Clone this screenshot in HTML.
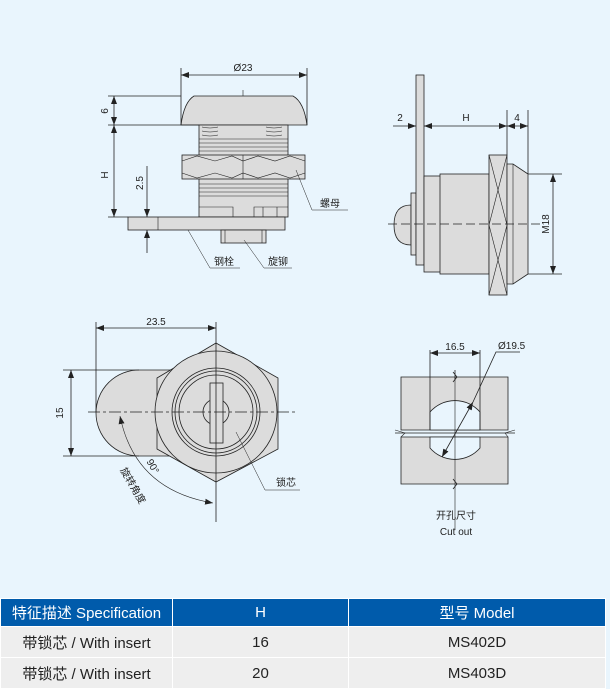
<!DOCTYPE html>
<html><head><meta charset="utf-8"><style>
html,body{margin:0;padding:0;width:610px;height:687px;background:#e9f5fd;overflow:hidden;font-family:"Liberation Sans","Noto Sans CJK SC",sans-serif}
svg{position:absolute;left:0;top:0}
table{position:absolute;left:0;top:598px;width:606px;border-collapse:collapse;font-size:15px}
td{text-align:center;height:29px;padding:0;border:1px solid #fff;color:#222}
tr.h td{background:#005bab;color:#fff;height:27px}
tr.r td{background:#eeeeee;height:30px}
</style></head><body>
<svg width="610" height="598" viewBox="0 0 610 598" font-family="Liberation Sans, Noto Sans CJK SC, sans-serif" font-size="10" fill="none" stroke="#222" stroke-width="0.8">
<defs><marker id="a" markerWidth="8" markerHeight="6" refX="8" refY="3" orient="auto-start-reverse" markerUnits="userSpaceOnUse"><path d="M0,0L8,3L0,6z" fill="#222" stroke="none"/></marker></defs>
<!-- View 1 -->
<g fill="#dcdcdc">
<path d="M181,125 Q184,102 194,96 L293,96 Q304,102 307,125 Z"/>
<rect x="199" y="125" width="89" height="92"/>
<rect x="182" y="155" width="123" height="24"/>
<rect x="128" y="217" width="157" height="13"/>
<rect x="221" y="230" width="45" height="13"/>
</g>
<g stroke-width="0.6">
<path d="M199,139H288M199,143H288M199,147H288M199,151H288M199,184H288M199,188H288M199,192H288M199,196H288"/>
<path d="M182,161L197,156L215,161L232,156L243,161L258,156L275,161L290,156L305,161M182,173L197,178L215,173L232,178L243,173L258,178L275,173L290,178L305,173M243,155V179"/>
<path d="M202,127q8,2 16,0M202,131q8,2 16,0M202,135q8,2 16,0M266,127q8,2 16,0M266,131q8,2 16,0M266,135q8,2 16,0"/>
<path d="M199,207H233V217M254,217V207H288M263,207V217M277,207V217M158,217V230M225,230V243M262,230V243M243,90V96"/>
</g>
<path d="M181,68V125M307,68V125M108,96H181M108,125H199M108,217H128"/>
<path d="M181,75H307" marker-start="url(#a)" marker-end="url(#a)"/>
<path d="M114,96V125" marker-start="url(#a)" marker-end="url(#a)"/>
<path d="M114,125V217" marker-start="url(#a)" marker-end="url(#a)"/>
<path d="M147,166V217" marker-end="url(#a)"/><path d="M147,253V230" marker-end="url(#a)"/>
<path d="M296,170L312,210H348M188,230L210,268H240M244,240L264,268H292" stroke-width="0.5"/>
<g fill="#222" stroke="none">
<text x="243" y="71" text-anchor="middle">Ø23</text>
<text transform="translate(108,111) rotate(-90)" text-anchor="middle">6</text>
<text transform="translate(108,175) rotate(-90)" text-anchor="middle">H</text>
<text transform="translate(143,183) rotate(-90)" text-anchor="middle">2.5</text>
<text x="320" y="207">螺母</text><text x="214" y="265">钢栓</text><text x="268" y="265">旋铆</text>
</g>
<!-- View 2 -->
<g fill="#dcdcdc">
<path d="M394,225 Q394,205 411,205 V245 Q394,245 394,225Z"/>
<rect x="411" y="193" width="5" height="62"/>
<rect x="416" y="75" width="8" height="190"/>
<rect x="424" y="176" width="65" height="96"/>
<rect x="440" y="174" width="49" height="100"/>
<rect x="489" y="155" width="18" height="140"/>
<path d="M507,164H513L528,174V274L513,284H507Z"/>
</g>
<path d="M489,155L498,190L489,225L498,260L489,295M507,155L498,190L507,225L498,260L507,295M513,164V284" stroke-width="0.6"/>
<path d="M388,224H540" stroke-dasharray="9,4"/>
<path d="M507,110V155M528,110V174M528,174H562M528,274H562"/>
<path d="M393,126H416" marker-end="url(#a)"/><path d="M424,126H507" marker-start="url(#a)" marker-end="url(#a)"/>
<path d="M507,126H528" marker-start="url(#a)" marker-end="url(#a)"/>
<path d="M553,174V274" marker-start="url(#a)" marker-end="url(#a)"/>
<g fill="#222" stroke="none">
<text x="400" y="121" text-anchor="middle">2</text><text x="466" y="121" text-anchor="middle">H</text><text x="517" y="121" text-anchor="middle">4</text>
<text transform="translate(549,224) rotate(-90)" text-anchor="middle">M18</text>
</g>
<!-- View 3 -->
<path d="M139,370H175V456H139A43,43 0 0 1 139,370Z" fill="#dcdcdc"/>
<path d="M216,343L278,378V449L216,482L157,449V378Z" fill="#dcdcdc"/>
<circle cx="216" cy="412" r="61" fill="#dcdcdc"/>
<circle cx="216" cy="412" r="44"/><circle cx="216" cy="412" r="41"/><circle cx="216" cy="412" r="37"/>
<circle cx="216" cy="412" r="13"/>
<rect x="210" y="383" width="13" height="60" fill="#dcdcdc"/>
<path d="M88,412H295" stroke-dasharray="12,3,3,3"/>
<path d="M216,322V522M96,322V412M63,370H139M63,456H139"/>
<path d="M96,328H216" marker-start="url(#a)" marker-end="url(#a)"/>
<path d="M71,370V456" marker-start="url(#a)" marker-end="url(#a)"/>
<path d="M120,416Q135,490 213,503" stroke-width="0.6" marker-start="url(#a)" marker-end="url(#a)"/>
<path d="M236,432L265,490H300" stroke-width="0.5"/>
<g fill="#222" stroke="none">
<text x="156" y="325" text-anchor="middle">23.5</text>
<text transform="translate(63,413) rotate(-90)" text-anchor="middle">15</text>
<text transform="translate(150,468) rotate(60)" text-anchor="middle">90°</text>
<text transform="translate(120,470) rotate(60)">旋转角度</text>
<text x="276" y="486">锁芯</text>
</g>
<!-- View 4 -->
<path d="M401,377H508V430H401ZM401,437H508V484H401Z" fill="#dcdcdc"/>
<path d="M430,430V412A33,33 0 0 1 480,412V430ZM430,437V448A33,33 0 0 0 480,448V437Z" fill="#e9f5fd"/>
<path d="M395,430L405,433L401,437M515,430L505,433L508,437M455,377V530" stroke-width="0.6"/>
<path d="M395,433H515M455,370V380M453,372L457,377L453,382M453,479L457,484L453,489"/>
<path d="M430,350V430M480,350V430"/>
<path d="M430,353H480" marker-start="url(#a)" marker-end="url(#a)"/>
<path d="M442,457L473,402" marker-start="url(#a)" marker-end="url(#a)"/><path d="M473,402L496,352H520"/>
<g fill="#222" stroke="none">
<text x="455" y="350" text-anchor="middle">16.5</text><text x="498" y="349">Ø19.5</text>
<text x="456" y="519" text-anchor="middle">开孔尺寸</text><text x="456" y="535" text-anchor="middle">Cut out</text>
</g>
</svg>
<table>
<tr class="h"><td style="width:171px">特征描述 Specification</td><td style="width:175px">H</td><td>型号 Model</td></tr>
<tr class="r"><td>带锁芯 / With insert</td><td>16</td><td>MS402D</td></tr>
<tr class="r"><td>带锁芯 / With insert</td><td>20</td><td>MS403D</td></tr>
</table>
</body></html>
